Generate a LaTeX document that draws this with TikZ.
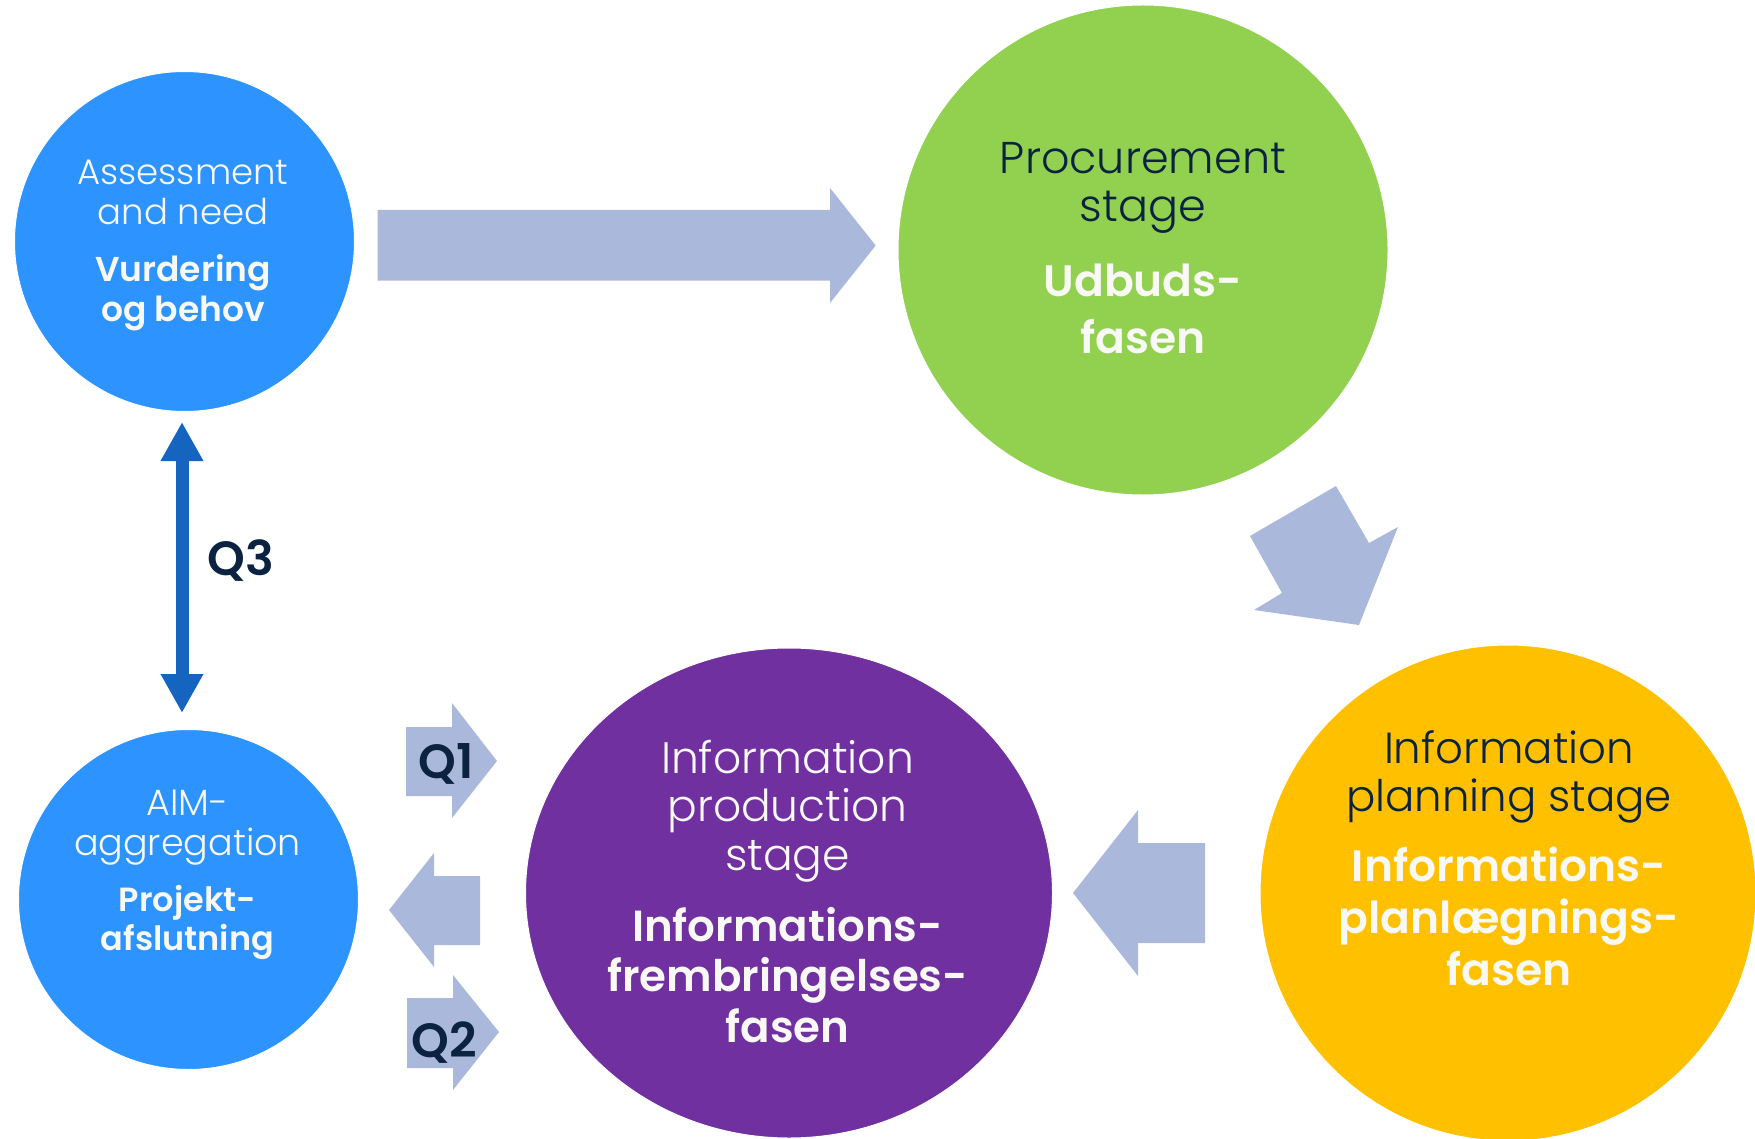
\documentclass[tikz,border=0pt]{standalone}
\usepackage{fontspec}
\usetikzlibrary{shapes.geometric,arrows.meta,calc}
\newfontfamily\lightfont{Poppins Light}
\newfontfamily\boldfont{Poppins SemiBold}
\newcommand\myLt[1]{\lightfont\fontsize{#1}{#1}\selectfont}
\newcommand\myBd[1]{\boldfont\fontsize{#1}{#1}\selectfont}
\definecolor{cblue}{HTML}{2C93FF}
\definecolor{cgreen}{HTML}{92D050}
\definecolor{cyellow}{HTML}{FFC000}
\definecolor{cpurple}{HTML}{7030A0}
\definecolor{carrow}{HTML}{AAB9DB}
\definecolor{cq}{HTML}{1565C0}
\definecolor{cnavy}{HTML}{0B2341}
\definecolor{cwhite}{HTML}{F8F8F5}
\tikzset{
  stage/.style={circle, inner sep=0pt, draw=white, line width=1pt},
  ln/.style={anchor=base, inner sep=0pt},
  block/.style={fill=carrow},
  qlabel/.style={anchor=base, inner sep=0pt, text=cnavy, font=\myBd{48}},
}
\begin{document}
\begin{tikzpicture}[x=1pt,y=-1pt]
\useasboundingbox (0,0) rectangle (1755,1139);
\clip (0,0) rectangle (1755,1139);
% circles
\node[stage, fill=cblue, minimum size=340pt] (c1) at (184.5,241.5) {};
\node[stage, fill=cgreen, minimum size=490pt] (c2) at (1143,250) {};
\node[stage, fill=cyellow, minimum size=496pt] (c3) at (1508,893) {};
\node[ellipse, inner sep=0pt, draw=white, line width=1pt, fill=cpurple, minimum width=527pt, minimum height=490pt] (c4) at (789,893) {};
\node[stage, fill=cblue, minimum size=340pt] (c5) at (188.5,899.5) {};
% block arrows
\fill[block] (377.5,210) -- (830,210) -- (830,188) -- (875.7,245.5) -- (830,303) -- (830,280.7) -- (377.5,280.7) -- cycle;
\fill[block] (1250,536) -- (1336,486) -- (1369,543) -- (1398,527) -- (1359,625) -- (1254,610) -- (1282,593) -- cycle;
\fill[block] (1073,893) -- (1138,810) -- (1138,843) -- (1205,843) -- (1205,943) -- (1138,943) -- (1138,976) -- cycle;
\fill[block] (406,727) -- (452,727) -- (452,703) -- (497,761) -- (452,818) -- (452,796) -- (406,796) -- cycle;
\fill[block] (389,910) -- (434,853) -- (434,876) -- (480,876) -- (480,945) -- (434,945) -- (434,967) -- cycle;
\fill[block] (407,998) -- (453,998) -- (453,975) -- (499,1032) -- (453,1090) -- (453,1068) -- (407,1068) -- cycle;
% Q3 double arrow
\draw[cq, line width=13pt, {Triangle[width=40pt,length=39pt]}-{Triangle[width=40pt,length=39pt]}]
  ($(c1.south)+(-2.5,10)$) -- ($(c5.north)+(-6.5,-16)$);
% Q labels
\node[qlabel] (q1) at (446,778) {Q1};
\node[qlabel] (q2) at (444,1057) {Q2};
\node[qlabel] (q3) at (241,575) {Q3};
% texts circle 1
\node[ln, text=cwhite, font=\myLt{35.5}] (t1a) at (183,185) {Assessment};
\node[ln, text=cwhite, font=\myLt{35.5}] (t1b) at (183,225) {and need};
\node[ln, text=cwhite, font=\myBd{34.5}] (t1c) at (183,281.7) {Vurdering};
\node[ln, text=cwhite, font=\myBd{34.5}] (t1d) at (183,321.7) {og behov};
% circle 2
\node[ln, text=cnavy, font=\myLt{44.5}] (t2a) at (1143,174) {Procurement};
\node[ln, text=cnavy, font=\myLt{44.5}] (t2b) at (1143,221.7) {stage};
\node[ln, text=cwhite, font=\myBd{44}] (t2c) at (1143,296.7) {Udbuds-};
\node[ln, text=cwhite, font=\myBd{44}] (t2d) at (1143,353.3) {fasen};
% circle 3
\node[ln, text=cnavy, font=\myLt{43.5}] (t3a) at (1509,763.3) {Information};
\node[ln, text=cnavy, font=\myLt{43.5}] (t3b) at (1509,811.7) {planning stage};
\node[ln, text=cwhite, font=\myBd{44}] (t3c) at (1509,881.7) {Informations-};
\node[ln, text=cwhite, font=\myBd{44}] (t3d) at (1509,933.3) {planlægnings-};
\node[ln, text=cwhite, font=\myBd{44}] (t3e) at (1509,985) {fasen};
% circle 4
\node[ln, text=cwhite, font=\myLt{44}] (t4a) at (787.5,773.3) {Information};
\node[ln, text=cwhite, font=\myLt{44}] (t4b) at (787.5,821.7) {production};
\node[ln, text=cwhite, font=\myLt{44}] (t4c) at (787.5,870) {stage};
\node[ln, text=cwhite, font=\myBd{43.5}] (t4d) at (787.5,941) {Informations-};
\node[ln, text=cwhite, font=\myBd{43.5}] (t4e) at (787.5,991.7) {frembringelses-};
\node[ln, text=cwhite, font=\myBd{43.5}] (t4f) at (787.5,1042.7) {fasen};
% circle 5
\node[ln, text=cwhite, font=\myLt{36.5}] (t5a) at (187.5,815) {AIM-};
\node[ln, text=cwhite, font=\myLt{36.5}] (t5b) at (187.5,855) {aggregation};
\node[ln, text=cwhite, font=\myBd{33.5}] (t5c) at (187.5,911.7) {Projekt-};
\node[ln, text=cwhite, font=\myBd{33.5}] (t5d) at (187.5,950) {afslutning};
\end{tikzpicture}
\end{document}
